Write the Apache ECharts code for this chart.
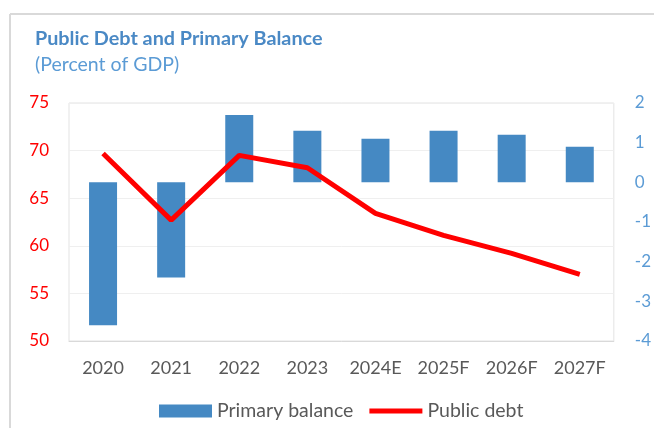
<!DOCTYPE html>
<html><head><meta charset="utf-8">
<script src="https://cdn.jsdelivr.net/npm/echarts@6/dist/echarts.min.js"></script>
<style>html,body{margin:0;padding:0;background:#fff}#c{width:654px;height:428px}</style>
</head><body><div id="c"></div>
<script>
const categories = ['2020','2021','2022','2023','2024E','2025F','2026F','2027F'];
const primaryBalance = [-3.6, -2.4, 1.7, 1.3, 1.1, 1.3, 1.2, 0.9];
const publicDebt = [69.7, 62.7, 69.5, 68.2, 63.4, 61.1, 59.2, 57.0];
const FONT = 'Lato';
const chart = echarts.init(document.getElementById('c'), null, {renderer:'canvas'});
chart.setOption({
  animation:false,
  textStyle:{fontFamily:FONT},
  graphic:[
    {type:'line', shape:{x1:10,y1:14,x2:654,y2:14}, style:{stroke:'#d9d9d9', lineWidth:2}},
    {type:'line', shape:{x1:10,y1:14,x2:10,y2:428}, style:{stroke:'#d9d9d9', lineWidth:2}},
    {type:'text', left:35, top:29, style:{text:'Public Debt and Primary Balance', font:'bold 19.8px Lato', fill:'#4a89c5'}},
    {type:'text', left:35, top:55, style:{text:'(Percent of GDP)', font:'19.5px Lato', fill:'#5b9bd5'}}
  ],
  grid:{left:69, right:40, top:103, bottom:87, show:true, borderColor:'#e3e3e3', borderWidth:1},
  legend:{
    top:401, left:159, padding:0, itemGap:16, itemWidth:53, itemHeight:13,
    textStyle:{color:'#595959', fontSize:19.5, fontFamily:FONT},
    data:[{name:'Primary balance', icon:'rect'}, {name:'Public debt', icon:'path://M0,0L52,0L52,5L0,5Z'}]
  },
  xAxis:{type:'category', data:categories,
    axisLine:{show:true, onZero:false, lineStyle:{color:'#d9d9d9'}}, axisTick:{show:false},
    axisLabel:{color:'#595959', fontSize:18, margin:18, fontFamily:FONT}},
  yAxis:[
    {type:'value', min:50, max:75, interval:5, position:'left',
      axisLabel:{color:'#ff0000', fontSize:17, margin:20, fontFamily:FONT},
      splitLine:{lineStyle:{color:'#efefef'}}, axisLine:{show:false}, axisTick:{show:false}},
    {type:'value', min:-4, max:2, interval:1, position:'right',
      axisLabel:{color:'#5b9bd5', fontSize:17, margin:21, fontFamily:FONT},
      splitLine:{show:false}, axisLine:{show:false}, axisTick:{show:false}}
  ],
  series:[
    {name:'Primary balance', type:'bar', yAxisIndex:1, data:primaryBalance, barWidth:28,
      itemStyle:{color:'#4589c3'}},
    {name:'Public debt', type:'line', yAxisIndex:0, data:publicDebt, symbol:'none',
      lineStyle:{color:'#ff0000', width:5}, itemStyle:{color:'#ff0000'}, z:5}
  ]
});
</script></body></html>
